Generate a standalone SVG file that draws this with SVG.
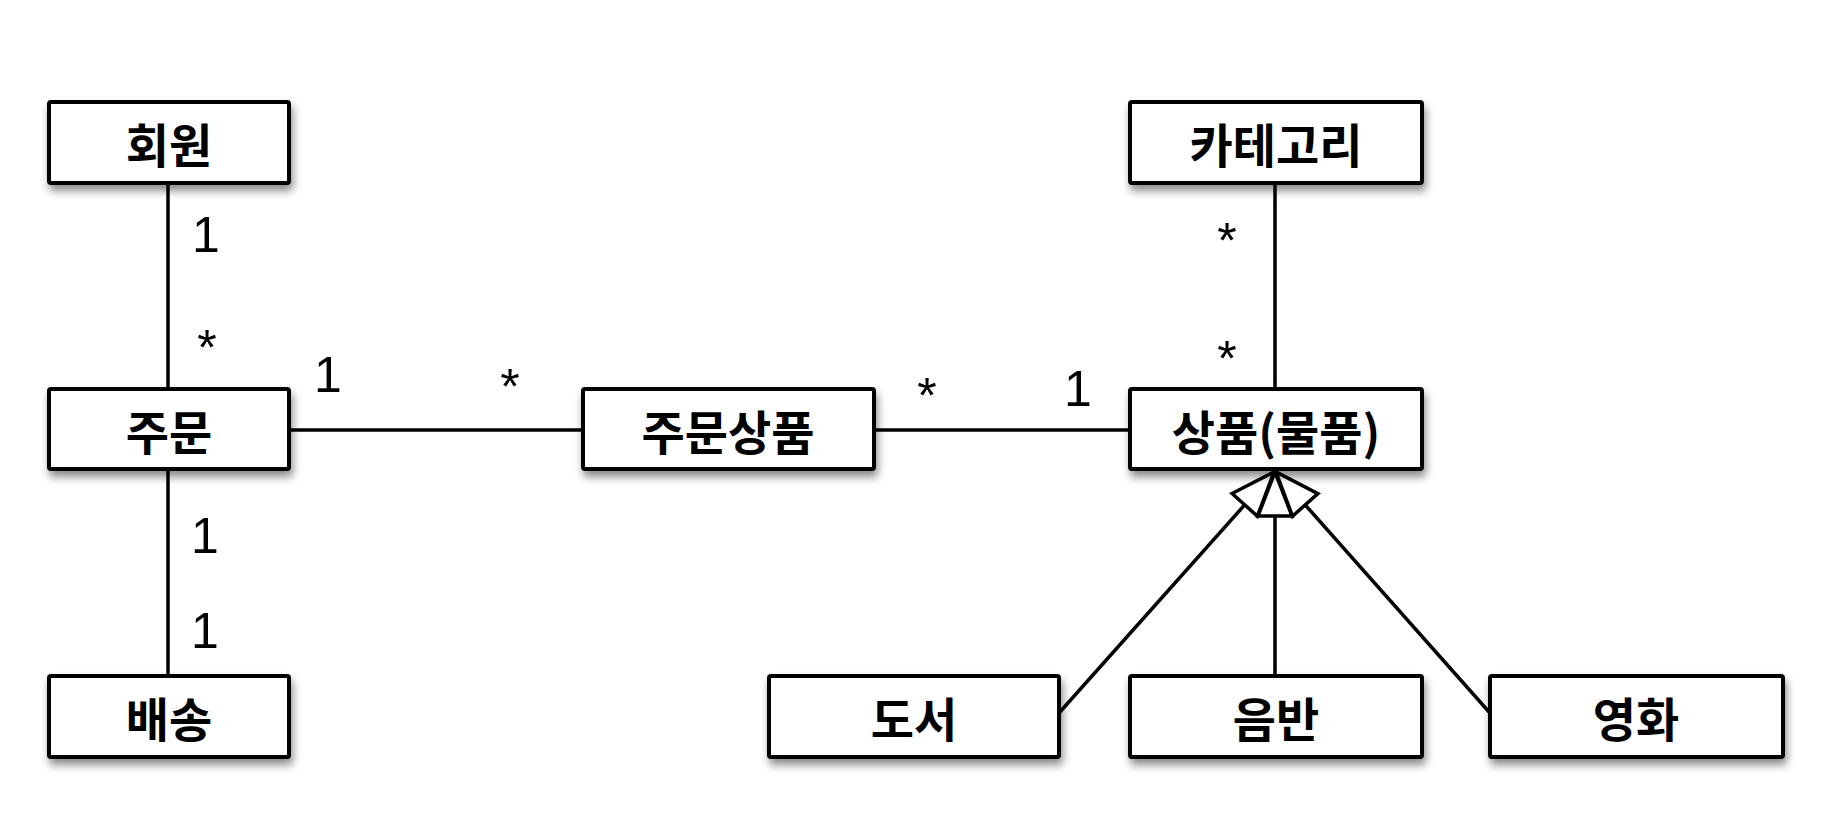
<svg xmlns="http://www.w3.org/2000/svg" width="1830" height="832" viewBox="0 0 1830 832">
<defs>
<style>
.box{fill:#fff;stroke:#000;stroke-width:4;filter:url(#sh)}
.lbl{font-family:"Noto Sans CJK KR","Noto Sans",sans-serif;font-weight:700;font-size:47px;fill:#000;text-anchor:middle;dominant-baseline:central}
.mult{font-family:"Liberation Sans",Arial,sans-serif;font-size:50px;fill:#000;text-anchor:middle}
.conn{stroke:#000;stroke-width:3.5;fill:none}
</style>
<filter id="sh" x="-10%" y="-20%" width="130%" height="160%">
<feDropShadow dx="2" dy="6" stdDeviation="4" flood-color="#000" flood-opacity="0.45"/>
</filter>
<marker id="gen" markerUnits="userSpaceOnUse" markerWidth="54" markerHeight="44" viewBox="-3 -3 54 44" refX="45" refY="17" orient="auto">
<path d="M1,0 L45,17 L1,34 Z" fill="#fff" stroke="#000" stroke-width="3.5" stroke-linejoin="miter"/>
</marker>
</defs>
<rect width="1830" height="832" fill="#fff"/>
<g id="connectors">
<line class="conn" x1="168" y1="183" x2="168" y2="389"/>
<line class="conn" x1="168" y1="469" x2="168" y2="676"/>
<line class="conn" x1="289" y1="430" x2="583" y2="430"/>
<line class="conn" x1="874" y1="430" x2="1130" y2="430"/>
<line class="conn" x1="1275" y1="183" x2="1275" y2="389"/>
<line class="conn" x1="1059" y1="713" x2="1274" y2="472" marker-end="url(#gen)"/>
<line class="conn" x1="1275" y1="676" x2="1275" y2="472" marker-end="url(#gen)"/>
<line class="conn" x1="1490" y1="713" x2="1276" y2="472" marker-end="url(#gen)"/>
<text class="mult" x="206" y="252">1</text>
<text class="mult" x="207" y="365">*</text>
<text class="mult" x="328" y="392">1</text>
<text class="mult" x="510" y="404">*</text>
<text class="mult" x="205" y="553">1</text>
<text class="mult" x="205" y="648">1</text>
<text class="mult" x="1227" y="258">*</text>
<text class="mult" x="1227" y="376">*</text>
<text class="mult" x="927" y="413">*</text>
<text class="mult" x="1078" y="406">1</text>
</g>
<g id="node-member"><rect class="box" x="49" y="102" width="240" height="81" rx="2"/><text class="lbl" x="169" y="142">회원</text></g>
<g id="node-order"><rect class="box" x="49" y="389" width="240" height="80" rx="2"/><text class="lbl" x="169" y="429">주문</text></g>
<g id="node-delivery"><rect class="box" x="49" y="676" width="240" height="81" rx="2"/><text class="lbl" x="169" y="716">배송</text></g>
<g id="node-orderitem"><rect class="box" x="583" y="389" width="291" height="80" rx="2"/><text class="lbl" x="728" y="429">주문상품</text></g>
<g id="node-category"><rect class="box" x="1130" y="102" width="292" height="81" rx="2"/><text class="lbl" x="1276" y="142">카테고리</text></g>
<g id="node-item"><rect class="box" x="1130" y="389" width="292" height="80" rx="2"/><text class="lbl" x="1276" y="429">상품(물품)</text></g>
<g id="node-book"><rect class="box" x="769" y="676" width="290" height="81" rx="2"/><text class="lbl" x="914" y="716">도서</text></g>
<g id="node-album"><rect class="box" x="1130" y="676" width="292" height="81" rx="2"/><text class="lbl" x="1276" y="716">음반</text></g>
<g id="node-movie"><rect class="box" x="1490" y="676" width="293" height="81" rx="2"/><text class="lbl" x="1636" y="716">영화</text></g>
</svg>
